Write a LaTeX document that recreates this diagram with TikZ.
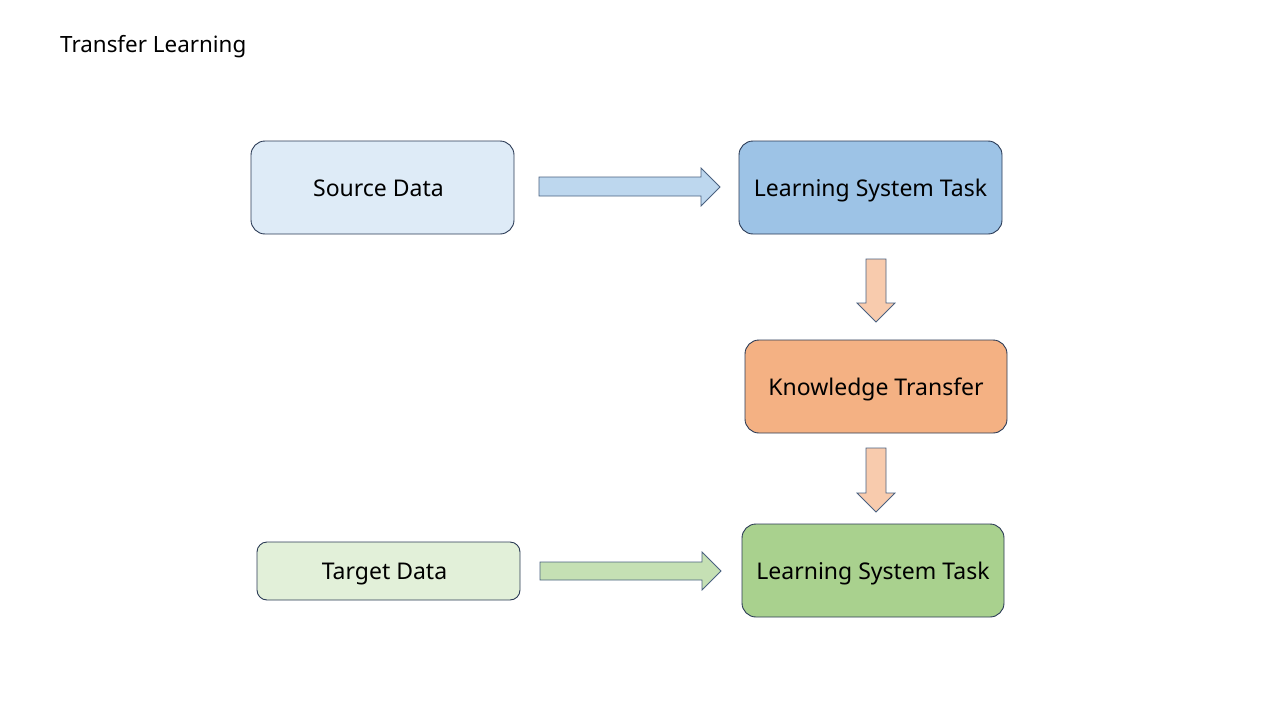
\documentclass[tikz,border=0pt]{standalone}
\usepackage{fontspec}
\setmainfont{Noto Sans}
\definecolor{bd}{HTML}{2A3A55}
\definecolor{abd}{HTML}{4A6180}
\definecolor{srcf}{HTML}{DEEBF7}
\definecolor{lstaf}{HTML}{9DC3E6}
\definecolor{ktf}{HTML}{F4B183}
\definecolor{lstbf}{HTML}{A9D18E}
\definecolor{tgtf}{HTML}{E2F0D9}
\definecolor{arb}{HTML}{BDD7EE}
\definecolor{aro}{HTML}{F8CBAD}
\definecolor{arg}{HTML}{C5E0B4}
\begin{document}
\begin{tikzpicture}[x=1pt,y=-1pt,
  box/.style={draw=bd,line width=0.9pt,rounded corners=14pt,inner sep=0pt,
    minimum width=263pt,minimum height=93pt,text height=17pt,text depth=0pt,
    font=\fontsize{23}{27}\selectfont},
  blockarrow/.style={draw=abd,line width=0.8pt,line join=miter}]
\useasboundingbox (0,0) rectangle (1280,720);
\node[anchor=west,inner sep=0pt,font=\fontsize{22.4}{26}\selectfont] (title) at (60,46.5) {Transfer Learning};
\node[box,fill=srcf] (src) at (382.5,187.5) {\hspace*{-8pt}Source Data};
\node[box,fill=lstaf] (lsta) at (870.5,187.5) {Learning System Task};
\node[box,fill=ktf,minimum width=262pt] (kt) at (876,386.5) {Knowledge Transfer};
\node[box,fill=lstbf,minimum width=262pt] (lstb) at (873,570.5) {Learning System Task};
\node[box,fill=tgtf,minimum height=58pt,rounded corners=10pt] (tgt) at (388.5,571) {\hspace*{-8pt}Target Data};
% block arrows
\draw[blockarrow,fill=arb] (539,177) -- (701,177) -- (701,168) -- (720,187) -- (701,206) -- (701,196) -- (539,196) -- cycle;
\draw[blockarrow,fill=arg] (540,562) -- (702,562) -- (702,552) -- (721,571) -- (702,590) -- (702,580) -- (540,580) -- cycle;
\draw[blockarrow,fill=aro] (866,259) -- (886,259) -- (886,303) -- (895,303) -- (876,322) -- (857,303) -- (866,303) -- cycle;
\draw[blockarrow,fill=aro] (866,448) -- (886,448) -- (886,493) -- (895,493) -- (876,512) -- (857,493) -- (866,493) -- cycle;
\end{tikzpicture}
\end{document}
